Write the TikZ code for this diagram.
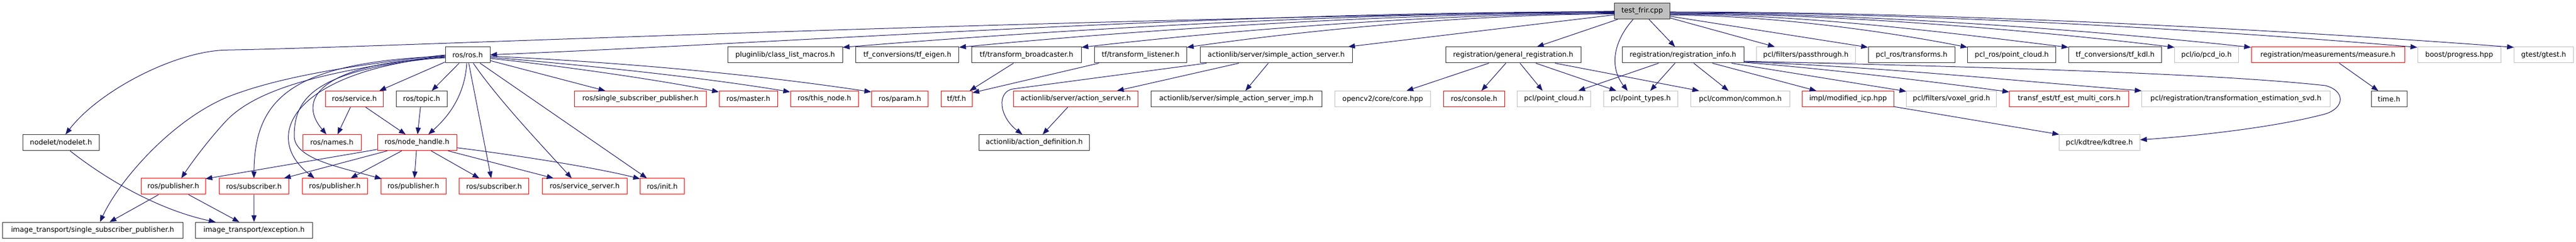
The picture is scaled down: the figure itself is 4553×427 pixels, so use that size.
\documentclass[tikz,border=0pt]{standalone}
\usepackage{fontspec}
\setmainfont{DejaVu Sans}
\usetikzlibrary{arrows.meta,calc}
\definecolor{edgec}{HTML}{191970}
\definecolor{greyb}{HTML}{BFBFBF}
\definecolor{darkb}{HTML}{303030}
\begin{document}
\begin{tikzpicture}[x=1pt,y=-1pt,
  nb/.style={rectangle,inner sep=0pt,minimum height=28pt,line width=1pt,font=\fontsize{12.4}{14}\selectfont,text=black},
  bnode/.style={nb,draw=darkb},
  rnode/.style={nb,draw=red},
  gnode/.style={nb,draw=greyb},
  rootnode/.style={nb,draw=darkb,fill=greyb},
  edg/.style={draw=edgec,line width=1pt,-{Triangle[length=12pt,width=9pt]}}
]
\useasboundingbox (0,0) rectangle (4553,427);
% row 0
\node[rootnode,minimum width=97.6pt] (root) at (2902.5,19.7) {test\_frir.cpp};
% row 1
\node[bnode,minimum width=79pt] (ros) at (826.5,97) {ros/ros.h};
\node[bnode,minimum width=202.3pt] (plugin) at (1387.85,97) {pluginlib/class\_list\_macros.h};
\node[bnode,minimum width=182pt] (tfeigen) at (1603.7,97) {tf\_conversions/tf\_eigen.h};
\node[bnode,minimum width=193.3pt] (tfbc) at (1814.35,97) {tf/transform\_broadcaster.h};
\node[bnode,minimum width=162.6pt] (tfl) at (2016,97) {tf/transform\_listener.h};
\node[bnode,minimum width=269.3pt] (sas) at (2255.65,97) {actionlib/server/simple\_action\_server.h};
\node[bnode,minimum width=239pt] (genreg) at (2674.5,97) {registration/general\_registration.h};
\node[bnode,minimum width=215pt] (reginfo) at (2974.5,97) {registration/registration\_info.h};
\node[gnode,minimum width=175pt] (pass) at (3191.8,97) {pcl/filters/passthrough.h};
\node[bnode,minimum width=153.3pt] (pcltr) at (3378.65,97) {pcl\_ros/transforms.h};
\node[bnode,minimum width=156pt] (pclpc) at (3555.7,97) {pcl\_ros/point\_cloud.h};
\node[bnode,minimum width=164.4pt] (tfkdl) at (3738.5,97) {tf\_conversions/tf\_kdl.h};
\node[gnode,minimum width=112.3pt] (pcd) at (3899.85,97) {pcl/io/pcd\_io.h};
\node[rnode,minimum width=271pt] (measure) at (4114.5,97) {registration/measurements/measure.h};
\node[gnode,minimum width=147pt] (boost) at (4346.5,97) {boost/progress.hpp};
\node[gnode,minimum width=104.3pt] (gtest) at (4495.85,97) {gtest/gtest.h};
% row 2
\node[rnode,minimum width=102.7pt] (service) at (626.35,174.7) {ros/service.h};
\node[bnode,minimum width=89.7pt] (topic) at (745.15,174.7) {ros/topic.h};
\node[rnode,minimum width=232.3pt] (ssp) at (1131.85,174.7) {ros/single\_subscriber\_publisher.h};
\node[rnode,minimum width=103.3pt] (master) at (1322.65,174.7) {ros/master.h};
\node[rnode,minimum width=120.3pt] (thisnode) at (1457.15,174.7) {ros/this\_node.h};
\node[rnode,minimum width=100.4pt] (param) at (1590.5,174.7) {ros/param.h};
\node[rnode,minimum width=55.3pt] (tftf) at (1690.65,174.7) {tf/tf.h};
\node[rnode,minimum width=220.3pt] (as) at (1901.15,174.7) {actionlib/server/action\_server.h};
\node[bnode,minimum width=301.7pt] (sasimp) at (2185.15,174.7) {actionlib/server/simple\_action\_server\_imp.h};
\node[gnode,minimum width=168.6pt] (opencv) at (2444,174.7) {opencv2/core/core.hpp};
\node[rnode,minimum width=107.3pt] (console) at (2605.35,174.7) {ros/console.h};
\node[gnode,minimum width=129.6pt] (pclpcl) at (2746.5,174.7) {pcl/point\_cloud.h};
\node[gnode,minimum width=131pt] (pts) at (2899.8,174.7) {pcl/point\_types.h};
\node[gnode,minimum width=174.6pt] (common) at (3076,174.7) {pcl/common/common.h};
\node[rnode,minimum width=161.3pt] (icp) at (3266.35,174.7) {impl/modified\_icp.hpp};
\node[gnode,minimum width=159pt] (voxel) at (3449.2,174.7) {pcl/filters/voxel\_grid.h};
\node[rnode,minimum width=211pt] (tfest) at (3657.2,174.7) {transf\_est/tf\_est\_multi\_cors.h};
\node[gnode,minimum width=332.3pt] (svd) at (3951.85,174.7) {pcl/registration/transformation\_estimation\_svd.h};
\node[bnode,minimum width=63pt] (time) at (4222.5,174.7) {time.h};
% row 3
\node[bnode,minimum width=135pt] (nodelet) at (107.8,251.7) {nodelet/nodelet.h};
\node[rnode,minimum width=103pt] (names) at (586.5,251.7) {ros/names.h};
\node[rnode,minimum width=140pt] (nh) at (737,251.7) {ros/node\_handle.h};
\node[bnode,minimum width=195pt] (actdef) at (1827.8,251.7) {actionlib/action\_definition.h};
\node[gnode,minimum width=143pt] (kdtree) at (3710.5,251.7) {pcl/kdtree/kdtree.h};
% row 4
\node[rnode,minimum width=114.7pt] (pub1) at (306.35,329) {ros/publisher.h};
\node[rnode,minimum width=123pt] (sub1) at (448.8,329) {ros/subscriber.h};
\node[rnode,minimum width=115pt] (pub2) at (591.8,329) {ros/publisher.h};
\node[rnode,minimum width=115pt] (pub3) at (730.5,329) {ros/publisher.h};
\node[rnode,minimum width=123pt] (sub2) at (873.2,329) {ros/subscriber.h};
\node[rnode,minimum width=149.3pt] (srvsrv) at (1033.35,329) {ros/service\_server.h};
\node[rnode,minimum width=77.6pt] (init) at (1170.5,329) {ros/init.h};
% row 5
\node[bnode,minimum width=318.7pt] (itssp) at (163.65,406.3) {image\_transport/single\_subscriber\_publisher.h};
\node[bnode,minimum width=206.6pt] (itexc) at (449,406.3) {image\_transport/exception.h};

% ---- edges from test_frir.cpp (left)
\draw[edg] (root.west) .. controls (1600,40) and (700,83) .. (400,88.3) .. controls (310,90) and (175,160) .. ($(nodelet.north)+(8,0)$);
\draw[edg] ($(root.west)+(0,1)$) .. controls +(-696,0) and +(600,-25) .. ($(ros.east)+(0,-0.3)$);
\draw[edg] ($(root.west)+(0,2)$) .. controls +(-477,0) and +(341,-28) .. ($(plugin.north east)+(0,1)$);
\draw[edg] ($(root.west)+(0,3)$) .. controls +(-406,0) and +(290,-28) .. ($(tfeigen.north east)+(0,1)$);
\draw[edg] ($(root.west)+(0,4)$) .. controls +(-330,0) and +(236,-27) .. ($(tfbc.north east)+(0,1)$);
\draw[edg] ($(root.west)+(0,5)$) .. controls +(-265,0) and +(189,-27) .. ($(tfl.north east)+(0,1)$);
\draw[edg] ($(root.west)+(0,6.5)$) -- ($(sas.north east)+(-8,0)$);
\draw[edg] ($(root.south west)+(6,0)$) -- ($(genreg.north)+(42,0)$);
\draw[edg] ($(root.south)+(-16,0)$) .. controls (2850,75) and (2845,120) .. ($(pts.north)+(-23,0)$);
\draw[edg] ($(root.south)+(12,0)$) -- ($(reginfo.north)+(-14,0)$);
% ---- edges from test_frir.cpp (right)
\draw[edg] ($(root.east)+(0,12)$) -- ($(pass.north)+(-55,0)$);
\draw[edg] ($(root.east)+(0,9)$) -- ($(pcltr.north west)+(0,1)$);
\draw[edg] ($(root.east)+(0,7)$) .. controls +(184,0) and +(-132,-26) .. ($(pclpc.north west)+(0,1)$);
\draw[edg] ($(root.east)+(0,5.5)$) .. controls +(247,0) and +(-200,-24) .. ($(tfkdl.north west)+(0,1)$);
\draw[edg] ($(root.east)+(0,4.3)$) .. controls +(312,0) and +(-223,-27) .. ($(pcd.north west)+(0,1)$);
\draw[edg] ($(root.east)+(0,3.3)$) .. controls +(360,0) and +(-257,-27.5) .. ($(measure.north west)+(0,1)$);
\draw[edg] ($(root.east)+(0,2.3)$) .. controls +(463,0) and +(-330,-28) .. ($(boost.north west)+(0,1)$);
\draw[edg] ($(root.east)+(0,1.3)$) .. controls +(522,0) and +(-373,-28) .. ($(gtest.north west)+(0,1)$);

% ---- edges from ros/ros.h
\draw[edg] ($(ros.south)+(-15,0)$) -- ($(topic.north)+(18,0)$);
\draw[edg] ($(ros.south)+(-1.5,0)$) .. controls +(-3,49) and +(43,-38) .. ($(nh.north)+(20,0)$);
\draw[edg] ($(ros.south)+(2,0)$) -- ($(sub2.north)+(-5,0)$);
\draw[edg] ($(ros.south)+(10,0)$) .. controls +(43,63) and +(-50,-55) .. ($(srvsrv.north)+(-23,0)$);
\draw[edg] ($(ros.south)+(22,0)$) -- ($(init.north)+(-27,0)$);
\draw[edg] ($(ros.east)+(0,10)$) -- ($(ssp.north)+(-62,0)$);
\draw[edg] ($(ros.east)+(0,6)$) .. controls +(140,15) and +(-100,-20) .. ($(master.north west)+(0,2)$);
\draw[edg] ($(ros.east)+(0,4)$) .. controls +(180,15) and +(-150,-25) .. ($(thisnode.north west)+(0,2)$);
\draw[edg] ($(ros.east)+(0,2)$) .. controls +(250,12) and +(-200,-30) .. ($(param.north west)+(0,2)$);
\draw[edg] ($(ros.south west)+(0,-2)$) -- ($(service.north)+(44,0)$);
\draw[edg] ($(ros.west)+(0,5)$) .. controls (580,110) and (520,170) .. ($(names.north)+(-9.5,0)$);
\draw[edg] ($(ros.west)+(0,4)$) .. controls (560,122) and (520,170) .. (520,240) .. controls (520,280) and (600,295) .. ($(pub3.north west)+(2,1)$);
\draw[edg] ($(ros.west)+(0,3)$) .. controls (520,125) and (460,240) .. ($(pub2.north)+(-36,0)$);
\draw[edg] ($(ros.west)+(0,2)$) .. controls (520,110) and (450,170) .. (sub1.north);
\draw[edg] ($(ros.west)+(0,1)$) .. controls (600,122) and (460,150) .. (400,213) .. controls (370,245) and (340,285) .. ($(pub1.north)+(14,0)$);
\draw[edg] (ros.west) .. controls (600,117) and (480,140) .. (400,172) .. controls (300,215) and (210,320) .. ($(itssp.north)+(13,0)$);

% ---- edges from ros/node_handle.h
\draw[edg] ($(nh.west)+(0,12)$) -- ($(pub1.north east)+(-1,1)$);
\draw[edg] ($(nh.south west)+(18,0)$) -- ($(sub1.north)+(53,0)$);
\draw[edg] ($(nh.south)+(-27,0)$) -- ($(pub2.north)+(28,0)$);
\draw[edg] ($(nh.south)+(-1,0)$) -- ($(pub3.north)+(2,0)$);
\draw[edg] ($(nh.south)+(25,0)$) -- ($(sub2.north)+(-26,0)$);
\draw[edg] ($(nh.south)+(55,0)$) -- ($(srvsrv.north)+(-55,0)$);
\draw[edg] ($(nh.east)+(0,9)$) .. controls (900,272) and (1050,295) .. ($(init.north west)+(0,1)$);
% ---- service / topic
\draw[edg] ($(service.south)+(-7,0)$) -- ($(names.north)+(10,0)$);
\draw[edg] ($(service.south)+(20,0)$) -- ($(nh.north)+(-20,0)$);
\draw[edg] ($(topic.south)+(-2,0)$) -- ($(nh.north)+(1,0)$);
% ---- publisher / nodelet / subscriber
\draw[edg] ($(pub1.south)+(-26,0)$) -- ($(itssp.north)+(30,0)$);
\draw[edg] ($(pub1.south)+(27,0)$) -- ($(itexc.north)+(-26,0)$);
\draw[edg] ($(nodelet.south)+(16,0)$) .. controls (190,318) and (280,370) .. ($(itexc.north)+(-68,0)$);
\draw[edg] (sub1.south) -- (itexc.north);
% ---- tf
\draw[edg] ($(tfbc.south)+(-23,0)$) -- ($(tftf.north east)+(-5,0)$);
\draw[edg] ($(tfl.south west)+(8,0)$) -- ($(tftf.east)+(0,-11)$);
% ---- actionlib
\draw[edg] ($(sas.south west)+(12,0)$) -- (1790,157) .. controls (1762,162) and (1765,205) .. ($(actdef.north)+(-21,0)$);
\draw[edg] ($(sas.south)+(-66,0)$) -- ($(as.north)+(73,0)$);
\draw[edg] ($(sas.south)+(-14,0)$) -- ($(sasimp.north)+(16,0)$);
\draw[edg] ($(as.south)+(-14,0)$) -- ($(actdef.north)+(15,0)$);
% ---- general_registration
\draw[edg] ($(genreg.south)+(-43,0)$) -- ($(opencv.north)+(42,0)$);
\draw[edg] ($(genreg.south)+(-13,0)$) -- ($(console.north)+(13,0)$);
\draw[edg] ($(genreg.south)+(12,0)$) -- ($(pclpcl.north)+(-20,0)$);
\draw[edg] ($(genreg.south)+(40,0)$) -- ($(pts.north)+(-43,0)$);
\draw[edg] ($(genreg.south)+(74,0)$) -- ($(common.north west)+(15,0)$);
% ---- registration_info
\draw[edg] ($(reginfo.south)+(-43,0)$) -- ($(pclpcl.north)+(43,0)$);
\draw[edg] ($(reginfo.south)+(-14,0)$) -- ($(pts.north)+(17,0)$);
\draw[edg] ($(reginfo.south)+(19,0)$) -- ($(common.north)+(-21,0)$);
\draw[edg] ($(reginfo.south)+(52,0)$) -- ($(icp.north)+(-56,0)$);
\draw[edg] ($(reginfo.south east)+(-22,0)$) -- ($(voxel.north west)+(0,1)$);
\draw[edg] ($(reginfo.east)+(0,13)$) .. controls +(150,12) and +(-150,-20) .. ($(tfest.north west)+(0,2)$);
\draw[edg] ($(reginfo.east)+(0,12)$) .. controls +(250,10) and +(-250,-20) .. (svd.north west);
\draw[edg] ($(reginfo.east)+(0,11)$) .. controls (3450,117) and (3900,128) .. (4110,151) .. controls (4145,160) and (4145,190) .. (4110,201) .. controls (4020,225) and (3880,240) .. ($(kdtree.east)+(0,-5)$);
\draw[edg] ($(icp.south east)+(0,-1)$) -- ($(kdtree.north west)+(1,0)$);
% ---- measure
\draw[edg] ($(measure.south)+(20,0)$) -- ($(time.north)+(-19,0)$);
\end{tikzpicture}
\end{document}
